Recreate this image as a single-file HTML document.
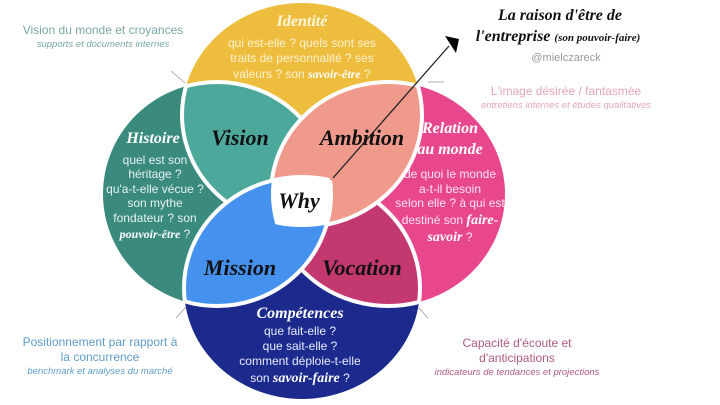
<!DOCTYPE html>
<html><head><meta charset="utf-8"><style>
body{margin:0;background:#fff;}
svg{display:block}
.s{font-family:"Liberation Serif",serif;font-style:italic;font-weight:bold;}
.b{font-family:"Liberation Sans",sans-serif;}
</style></head><body>
<svg width="720" height="405" viewBox="0 0 720 405" xmlns="http://www.w3.org/2000/svg">
<defs>
<clipPath id="cY"><ellipse cx="302" cy="115" rx="120" ry="112"/></clipPath>
<clipPath id="cT"><ellipse cx="217" cy="194" rx="114" ry="112"/></clipPath>
<clipPath id="cP"><ellipse cx="388" cy="194" rx="117" ry="112"/></clipPath>
<clipPath id="cN"><ellipse cx="302" cy="288" rx="118" ry="111"/></clipPath>
</defs>
<rect width="720" height="405" fill="#fff"/>
<ellipse cx="302" cy="115" rx="120" ry="112" fill="#EFBD3D"/>
<ellipse cx="217" cy="194" rx="114" ry="112" fill="#3A8A7E"/>
<ellipse cx="388" cy="194" rx="117" ry="112" fill="#E8478E"/>
<ellipse cx="302" cy="288" rx="118" ry="111" fill="#1B2A8C"/>
<g clip-path="url(#cY)"><ellipse cx="217" cy="194" rx="114" ry="112" fill="#4DA89C" stroke="#fff" stroke-width="4"/></g>
<g clip-path="url(#cT)"><ellipse cx="302" cy="115" rx="120" ry="112" fill="none" stroke="#fff" stroke-width="4"/></g>
<g clip-path="url(#cP)"><ellipse cx="302" cy="288" rx="118" ry="111" fill="#C2386F" stroke="#fff" stroke-width="4"/></g>
<g clip-path="url(#cN)"><ellipse cx="388" cy="194" rx="117" ry="112" fill="none" stroke="#fff" stroke-width="4"/></g>
<g clip-path="url(#cY)"><ellipse cx="388" cy="194" rx="117" ry="112" fill="#F09A8C" stroke="#fff" stroke-width="4"/></g>
<g clip-path="url(#cP)"><ellipse cx="302" cy="115" rx="120" ry="112" fill="none" stroke="#fff" stroke-width="4"/></g>
<g clip-path="url(#cT)"><ellipse cx="302" cy="288" rx="118" ry="111" fill="#4591EE" stroke="#fff" stroke-width="4"/></g>
<g clip-path="url(#cN)"><ellipse cx="217" cy="194" rx="114" ry="112" fill="none" stroke="#fff" stroke-width="4"/></g>
<g clip-path="url(#cY)"><g clip-path="url(#cT)"><g clip-path="url(#cP)"><g clip-path="url(#cN)"><rect x="200" y="100" width="200" height="200" fill="#fff"/></g></g></g></g>

<line x1="333" y1="178" x2="449" y2="46" stroke="#222" stroke-width="1.3"/>
<polygon points="445,36 459,39 456,53" fill="#000"/>
<g stroke="#999" stroke-width="0.8">
<line x1="171" y1="71" x2="185" y2="83"/><line x1="428" y1="82" x2="444" y2="82"/>
<line x1="186" y1="307" x2="176" y2="318"/><line x1="418" y1="307" x2="428" y2="318"/>
</g>

<g class="s" text-anchor="middle" fill="#111" font-size="22">
<text x="240" y="145">Vision</text>
<text x="362" y="145">Ambition</text>
<text x="299" y="208">Why</text>
<text x="240" y="275">Mission</text>
<text x="362" y="275">Vocation</text>
</g>
<g class="s" text-anchor="middle" fill="#fff" font-size="16">
<text x="302" y="26" fill="#fff8e0">Identité</text>
<text x="153" y="143">Histoire</text>
<text x="450" y="133">Relation</text>
<text x="450" y="154">au monde</text>
<text x="300" y="318">Compétences</text>
</g>
<g class="b" text-anchor="middle" font-size="12">
<g fill="#fdf2d2">
<text x="302" y="47">qui est-elle ? quels sont ses</text>
<text x="302" y="62">traits de personnalité ? ses</text>
<text x="302" y="78">valeurs ? son <tspan class="s" fill="#fff">savoir-être</tspan> ?</text>
</g>
<g fill="#e6f2ef">
<text x="155" y="164">quel est son</text>
<text x="155" y="178">héritage ?</text>
<text x="155" y="193">qu'a-t-elle vécue ?</text>
<text x="155" y="207">son mythe</text>
<text x="155" y="222">fondateur ? son</text>
<text x="155" y="238"><tspan class="s" fill="#fff">pouvoir-être</tspan> ?</text>
</g>
<g fill="#fde6ef">
<text x="450" y="178">de quoi le monde</text>
<text x="450" y="193">a-t-il besoin</text>
<text x="450" y="207">selon elle ? à qui est</text>
<text x="450" y="224">destiné son <tspan class="s" fill="#fff" font-size="14">faire-</tspan></text>
<text x="450" y="241"><tspan class="s" fill="#fff" font-size="14">savoir</tspan> ?</text>
</g>
<g fill="#e8ecff">
<text x="300" y="335">que fait-elle ?</text>
<text x="300" y="350">que sait-elle ?</text>
<text x="300" y="365">comment déploie-t-elle</text>
<text x="300" y="382">son <tspan class="s" fill="#fff" font-size="14">savoir-faire</tspan> ?</text>
</g>
</g>

<g class="b" text-anchor="middle">
<text x="103" y="34" font-size="12" fill="#7AA8A6">Vision du monde et croyances</text>
<text x="103" y="47" font-size="9.5" font-style="italic" fill="#7AA8A6">supports et documents internes</text>
<text x="566" y="95" font-size="12" fill="#E3A6B6">L'image désirée / fantasmée</text>
<text x="566" y="108" font-size="9.5" font-style="italic" fill="#E3A6B6">entretiens internes et études qualitatives</text>
<text x="566" y="61" font-size="11" fill="#999">@mielczareck</text>
<text x="100" y="346" font-size="12" fill="#5E9CC8">Positionnement par rapport à</text>
<text x="100" y="361" font-size="12" fill="#5E9CC8">la concurrence</text>
<text x="100" y="374" font-size="9.5" font-style="italic" fill="#5E9CC8">benchmark et analyses du marché</text>
<text x="517" y="347" font-size="12" fill="#B05A80">Capacité d'écoute et</text>
<text x="517" y="362" font-size="12" fill="#B05A80">d'anticipations</text>
<text x="517" y="375" font-size="9.5" font-style="italic" fill="#B05A80">indicateurs de tendances et projections</text>
</g>
<g class="s" fill="#111" text-anchor="middle">
<text x="560" y="20" font-size="16">La raison d'être de</text>
<text x="558" y="41" font-size="16">l'entreprise <tspan font-size="11">(son pouvoir-faire)</tspan></text>
</g>
</svg>
</body></html>
